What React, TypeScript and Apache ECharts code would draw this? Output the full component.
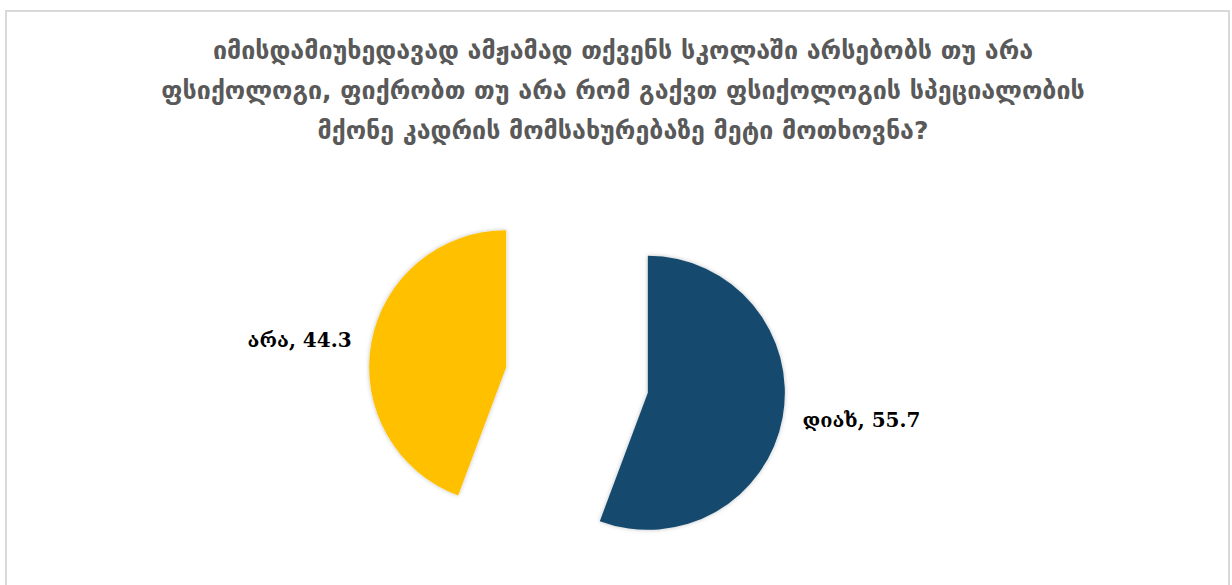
import React, { useEffect, useRef } from "react";
import * as echarts from "echarts";

const titleLines = [
  "იმისდამიუხედავად ამჟამად თქვენს სკოლაში არსებობს თუ არა",
  "ფსიქოლოგი, ფიქრობთ თუ არა რომ გაქვთ ფსიქოლოგის სპეციალობის",
  "მქონე კადრის მომსახურებაზე მეტი მოთხოვნა?",
];
const categories = ["დიახ", "არა"];
const values = [55.7, 44.3];
const colors = ["#134A6E", "#FFC000"];

export default function App() {
  const ref = useRef<HTMLDivElement>(null);
  useEffect(() => {
    if (!ref.current) return;
    const chart = echarts.init(ref.current, undefined, { renderer: "svg" });
    chart.setOption({
      animation: false,
      backgroundColor: "#ffffff",
      graphic: [
        {
          type: "rect",
          shape: { x: 6, y: 11, width: 1223, height: 600 },
          style: { fill: "none", stroke: "#D9D9D9", lineWidth: 2 },
          silent: true,
        },
      ],
      title: {
        text: titleLines.join("\n"),
        left: 618,
        textAlign: "center",
        top: 25,
        textStyle: {
          fontFamily: "DejaVu Sans",
          fontSize: 25,
          fontWeight: "bold",
          color: "#595959",
          lineHeight: 40,
        },
      },
      series: [
        {
          type: "pie",
          center: [577, 380],
          radius: 137,
          startAngle: 90,
          selectedMode: "multiple",
          selectedOffset: 72,
          data: categories.map((c, i) => ({
            name: c,
            value: values[i],
            selected: true,
            itemStyle: { color: colors[i] },
          })),
          itemStyle: {
            shadowBlur: 4,
            shadowColor: "rgba(0,0,0,0.25)",
          },
          label: {
            show: true,
            position: "outside",
            formatter: (p: any) => `${p.name}, ${p.value}`,
            fontFamily: "DejaVu Serif",
            fontWeight: "bold",
            fontSize: 20,
            color: "#000000",
            distanceToLabelLine: 5,
          },
          labelLine: { show: false, length: 15, length2: 0 },
          emphasis: { disabled: true },
        },
      ],
    });
    return () => chart.dispose();
  }, []);
  return (
    <div
      ref={ref}
      style={{ position: "absolute", left: 0, top: 0, width: 1232, height: 585 }}
    />
  );
}
